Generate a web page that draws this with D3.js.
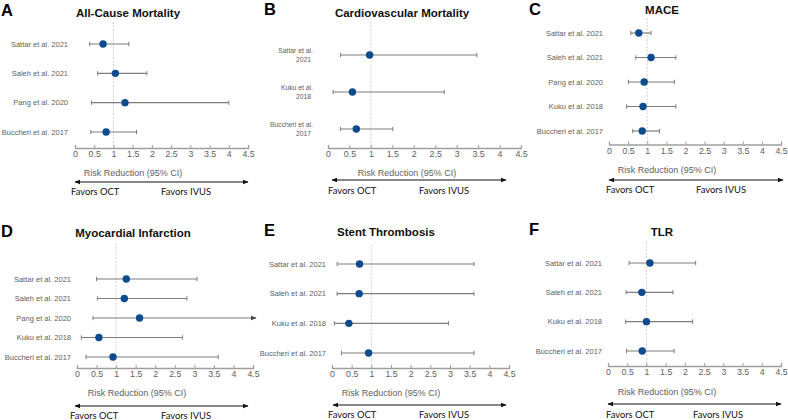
<!DOCTYPE html>
<html>
<head>
<meta charset="utf-8">
<script src="https://cdn.jsdelivr.net/npm/d3@7"></script>
<style>
  html, body { margin: 0; padding: 0; background: #fff; }
  svg { display: block; font-family: "Liberation Sans", Arial, sans-serif; }
</style>
</head>
<body>
<svg id="chart" width="788" height="420"></svg>
<script>
// Six forest plots, OCT vs IVUS, risk ratio with 95% CI.

const TICKS = [0, 0.5, 1, 1.5, 2, 2.5, 3, 3.5, 4, 4.5];

// A - all-cause mortality
const studiesA = ["Sattar et al. 2021", "Saleh et al. 2021", "Pang et al. 2020", "Buccheri et al. 2017"];
const estA = [0.73, 1.05, 1.30, 0.81];
const lowA = [0.38, 0.59, 0.43, 0.41];
const highA = [1.40, 1.87, 4.00, 1.60];

// B - cardiovascular mortality (two-line labels)
const studiesB = ["Sattar et al.|2021", "Kuku et al.|2018", "Buccheri et al.|2017"];
const estB = [0.97, 0.57, 0.66];
const lowB = [0.29, 0.12, 0.29];
const highB = [3.47, 2.71, 1.51];

// C - MACE
const studiesC = ["Sattar et al. 2021", "Saleh et al. 2021", "Pang et al. 2020", "Kuku et al. 2018", "Buccheri et al. 2017"];
const estC = [0.78, 1.10, 0.92, 0.89, 0.87];
const lowC = [0.57, 0.70, 0.51, 0.46, 0.62];
const highC = [1.10, 1.75, 1.71, 1.75, 1.32];

// D - myocardial infarction (Pang upper CI runs off the axis)
const studiesD = ["Sattar et al. 2021", "Saleh et al. 2021", "Pang et al. 2020", "Kuku et al. 2018", "Buccheri et al. 2017"];
const estD = [1.26, 1.21, 1.60, 0.56, 0.92];
const lowD = [0.50, 0.52, 0.41, 0.11, 0.23];
const highD = [3.07, 2.81, 6.50, 2.70, 3.61];

// E - stent thrombosis
const studiesE = ["Sattar et al. 2021", "Saleh et al. 2021", "Kuku et al. 2018", "Buccheri et al. 2017"];
const estE = [0.70, 0.69, 0.43, 0.93];
const lowE = [0.13, 0.13, 0.06, 0.24];
const highE = [3.61, 3.61, 2.96, 3.61];

// F - TLR
const studiesF = ["Sattar et al. 2021", "Saleh et al. 2021", "Kuku et al. 2018", "Buccheri et al. 2017"];
const estF = [1.09, 0.88, 1.00, 0.89];
const lowF = [0.55, 0.47, 0.46, 0.48];
const highF = [2.28, 1.69, 2.20, 1.72];

const panels = [
  { letter: "A", title: "All-Cause Mortality", studies: studiesA, est: estA, low: lowA, high: highA },
  { letter: "B", title: "Cardiovascular Mortality", studies: studiesB, est: estB, low: lowB, high: highB },
  { letter: "C", title: "MACE", studies: studiesC, est: estC, low: lowC, high: highC },
  { letter: "D", title: "Myocardial Infarction", studies: studiesD, est: estD, low: lowD, high: highD },
  { letter: "E", title: "Stent Thrombosis", studies: studiesE, est: estE, low: lowE, high: highE },
  { letter: "F", title: "TLR", studies: studiesF, est: estF, low: lowF, high: highF }
];

// Layout per panel (pixel placement, kept apart from the data)
const LAYOUT = [
  { lx: 1,   ly: 16,  tx: 128, ty: 17,  x0: 75,  x1: 248, ay: 148, r0: 44,  r1: 132, lab: 68,  ref0: 22,  atx: 133, aty: 176, arY: 182, ar0: 73,  ar1: 250, fy: 195, ocX: 71,  ivX: 161, lfs: 7.5 },
  { lx: 264, ly: 15,  tx: 402, ty: 17,  x0: 328, x1: 521, ay: 148, r0: 55,  r1: 129, lab: 313, ref0: 22,  atx: 407, aty: 176, arY: 180, ar0: 330, ar1: 508, fy: 194, ocX: 328, ivX: 419, lfs: 6.8 },
  { lx: 529, ly: 15,  tx: 662, ty: 14,  x0: 609, x1: 781, ay: 144.5, r0: 33, r1: 131, lab: 603, ref0: 18, atx: 667, aty: 173, arY: 180, ar0: 607, ar1: 785, fy: 193, ocX: 606, ivX: 696, lfs: 7.5 },
  { lx: 1,   ly: 237, tx: 133, ty: 237, x0: 77,  x1: 253, ay: 368, r0: 279, r1: 357, lab: 71,  ref0: 243, atx: 137, aty: 396, arY: 406, ar0: 73, ar1: 250, fy: 419, ocX: 70, ivX: 161, lfs: 7.5 },
  { lx: 264, ly: 236, tx: 386, ty: 236, x0: 332, x1: 509, ay: 368, r0: 264, r1: 353, lab: 326, ref0: 245, atx: 391, aty: 396, arY: 405, ar0: 331, ar1: 508, fy: 418, ocX: 328, ivX: 419, lfs: 7.5 },
  { lx: 529, ly: 235, tx: 662, ty: 236, x0: 608, x1: 781, ay: 366, r0: 263, r1: 351, lab: 602, ref0: 242, atx: 667, aty: 395, arY: 404, ar0: 606, ar1: 783, fy: 418, ocX: 606, ivX: 693, lfs: 7.5 }
];

const BLUE = "#0d4a8e";
const CI_GREY = "#7d7d7d";
const TEXT_GREY = "#5e5e5e";

const svg = d3.select("#chart");
const defs = svg.append("defs");

// arrowheads
defs.append("marker")
  .attr("id", "arrBlack").attr("viewBox", "0 0 10 10")
  .attr("refX", 9).attr("refY", 5)
  .attr("markerWidth", 6).attr("markerHeight", 6)
  .attr("markerUnits", "userSpaceOnUse")
  .attr("orient", "auto-start-reverse")
  .append("path").attr("d", "M0,1 L10,5 L0,9 Z").attr("fill", "#111");

defs.append("marker")
  .attr("id", "arrGrey").attr("viewBox", "0 0 10 10")
  .attr("refX", 9).attr("refY", 5)
  .attr("markerWidth", 6).attr("markerHeight", 6)
  .attr("markerUnits", "userSpaceOnUse")
  .attr("orient", "auto")
  .append("path").attr("d", "M0,1 L10,5 L0,9 Z").attr("fill", "#444");

panels.forEach((p, i) => drawPanel(p, LAYOUT[i]));

function drawPanel(p, L) {
  const g = svg.append("g");

  const x = d3.scaleLinear().domain([0, 4.5]).range([L.x0, L.x1]);
  const y = d3.scalePoint().domain(p.studies).range([L.r0, L.r1]);

  // panel letter + title
  g.append("text")
    .attr("x", L.lx).attr("y", L.ly)
    .attr("font-size", 16.5).attr("font-weight", 700).attr("fill", "#000")
    .text(p.letter);

  g.append("text")
    .attr("x", L.tx).attr("y", L.ty)
    .attr("text-anchor", "middle")
    .attr("font-size", 11.5).attr("font-weight", 700).attr("fill", "#111")
    .text(p.title);

  // no-effect line
  g.append("line")
    .attr("x1", x(1)).attr("x2", x(1))
    .attr("y1", L.ref0).attr("y2", L.ay)
    .attr("stroke", "#c8c8c8").attr("stroke-width", 0.8)
    .attr("stroke-dasharray", "2,1.5");

  // x axis
  const ax = g.append("g")
    .attr("transform", `translate(0,${L.ay})`)
    .call(d3.axisBottom(x).tickValues(TICKS).tickSize(-3).tickPadding(3)
      .tickFormat(d => String(d)));
  ax.select(".domain").attr("stroke", "#9e9e9e").attr("stroke-width", 1.3);
  ax.selectAll(".tick line").attr("stroke", "#9e9e9e");
  ax.selectAll(".tick text")
    .attr("fill", TEXT_GREY).attr("font-size", 8.8)
    .attr("font-family", "Liberation Sans, Arial, sans-serif");

  g.append("text")
    .attr("x", L.atx).attr("y", L.aty)
    .attr("text-anchor", "middle")
    .attr("font-size", 9).attr("fill", TEXT_GREY)
    .text("Risk Reduction (95% CI)");

  // study labels
  p.studies.forEach(s => {
    const parts = s.split("|");
    const t = g.append("text")
      .attr("x", L.lab)
      .attr("y", y(s))
      .attr("text-anchor", "end")
      .attr("font-size", L.lfs).attr("fill", TEXT_GREY);
    if (parts.length === 1) {
      t.attr("dy", "0.35em").text(s);
    } else {
      t.append("tspan").attr("x", L.lab).attr("dy", "-0.3em").text(parts[0]);
      t.append("tspan").attr("x", L.lab - 2).attr("dy", "1.35em").text(parts[1]);
    }
  });

  // confidence intervals
  p.studies.forEach((s, k) => {
    const cy = y(s);
    const lo = x(p.low[k]);
    const off = p.high[k] > 4.5;
    const hi = off ? x(4.5) + 3 : x(p.high[k]);

    const ln = g.append("line")
      .attr("x1", lo).attr("x2", hi)
      .attr("y1", cy).attr("y2", cy)
      .attr("stroke", CI_GREY).attr("stroke-width", 1.2);
    if (off) ln.attr("marker-end", "url(#arrGrey)");

    g.append("line")
      .attr("x1", lo).attr("x2", lo)
      .attr("y1", cy - 2.2).attr("y2", cy + 2.2)
      .attr("stroke", CI_GREY).attr("stroke-width", 1);
    if (!off) {
      g.append("line")
        .attr("x1", hi).attr("x2", hi)
        .attr("y1", cy - 2.2).attr("y2", cy + 2.2)
        .attr("stroke", CI_GREY).attr("stroke-width", 1);
    }

    g.append("circle")
      .attr("cx", x(p.est[k])).attr("cy", cy)
      .attr("r", 3.7).attr("fill", BLUE);
  });

  // favours arrow
  g.append("line")
    .attr("x1", L.ar0 + 2).attr("x2", L.ar1 - 2)
    .attr("y1", L.arY).attr("y2", L.arY)
    .attr("stroke", "#111").attr("stroke-width", 1.1)
    .attr("marker-start", "url(#arrBlack)")
    .attr("marker-end", "url(#arrBlack)");

  g.append("text")
    .attr("x", L.ocX).attr("y", L.fy)
    .attr("font-family", "Lato, 'Open Sans', sans-serif")
    .attr("font-size", 9.4).attr("fill", "#111")
    .text("Favors OCT");

  g.append("text")
    .attr("x", L.ivX).attr("y", L.fy)
    .attr("font-family", "Lato, 'Open Sans', sans-serif")
    .attr("font-size", 9.4).attr("fill", "#111")
    .text("Favors IVUS");
}
</script>
</body>
</html>
